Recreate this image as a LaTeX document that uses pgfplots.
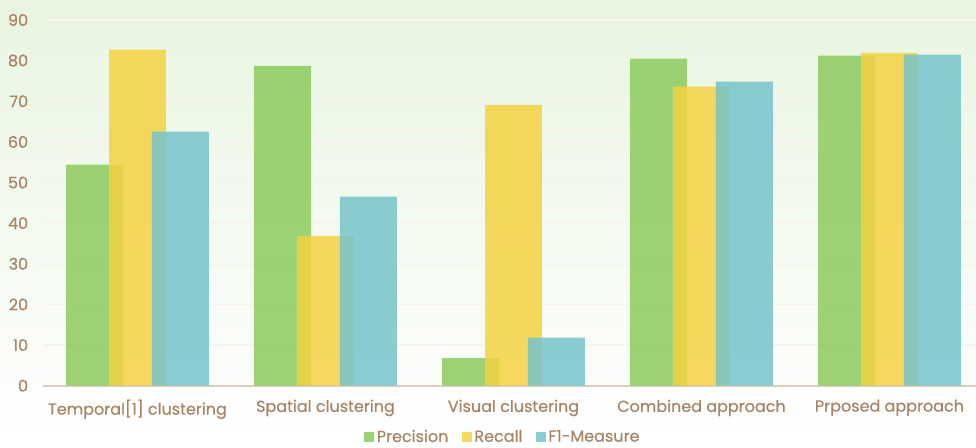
\documentclass[border=0pt]{standalone}
\usepackage{fontspec}
\setmainfont{Poppins}[FakeBold=0.5]
\usepackage{pgfplots}
\pgfplotsset{compat=1.18}

\definecolor{bgtop}{RGB}{232,245,224}
\definecolor{labelbrown}{RGB}{168,133,104}
\definecolor{gridc}{RGB}{247,244,238}
\definecolor{baseline}{RGB}{218,205,192}
\definecolor{precc}{RGB}{140,203,92}
\definecolor{recc}{RGB}{244,210,66}
\definecolor{f1c}{RGB}{118,196,202}

\begin{document}
\begin{tikzpicture}[x=0.75pt,y=0.75pt]
  % page background: pale green fading to white
  \shade[top color=bgtop, bottom color=white] (0,0) rectangle (976,447);
  \path[use as bounding box] (0,0) rectangle (976,447);
  \begin{axis}[
    at={(32.625pt,45.98pt)}, anchor=south west,
    scale only axis, width=705pt, height=274.3pt,
    xmin=-0.5, xmax=4.5, ymin=0, ymax=90,
    ytick={0,10,...,90},
    xtick={0,1,2,3,4},
    xticklabels={Temporal[1] clustering, Spatial clustering, Visual clustering, Combined approach, Prposed approach},
    major tick length=0pt,
    axis x line*=bottom,
    axis y line*=left,
    x axis line style={-, draw=baseline, line width=1.5pt},
    y axis line style={-, draw=none},
    ymajorgrids, grid style={draw=gridc, line width=1.2pt},
    /pgf/number format/assume math mode=true,
    tick label style={font=\fontsize{12}{14}\selectfont, text=labelbrown},
    yticklabel style={xshift=-8pt},
    xticklabel style={yshift=-7pt},
    bar width=0.3026,
    ybar,
    legend style={at={(axis description cs:0.489,-0.14)}, anchor=center,
      draw=none, fill=none, legend columns=3,
      font=\fontsize{12}{14}\selectfont, text=labelbrown,
      /tikz/every even column/.append style={column sep=8pt}},
    legend image code/.code={\fill[#1] (0pt,-3.75pt) rectangle (7.5pt,3.75pt);},
    legend cell align=left,
  ]
    \addplot[fill=precc, draw=none, fill opacity=0.85, bar shift=-0.228]
      coordinates {(0,54.4) (1,78.7) (2,6.8) (3,80.5) (4,81.2)};
    \addplot[fill=recc, draw=none, fill opacity=0.85, bar shift=0]
      coordinates {(0,82.7) (1,36.8) (2,69.1) (3,73.6) (4,81.9)};
    \addplot[fill=f1c, draw=none, fill opacity=0.85, bar shift=0.228]
      coordinates {(0,62.5) (1,46.5) (2,11.8) (3,74.8) (4,81.5)};
    \legend{Precision, Recall, F1-Measure}
  \end{axis}
\end{tikzpicture}
\end{document}
